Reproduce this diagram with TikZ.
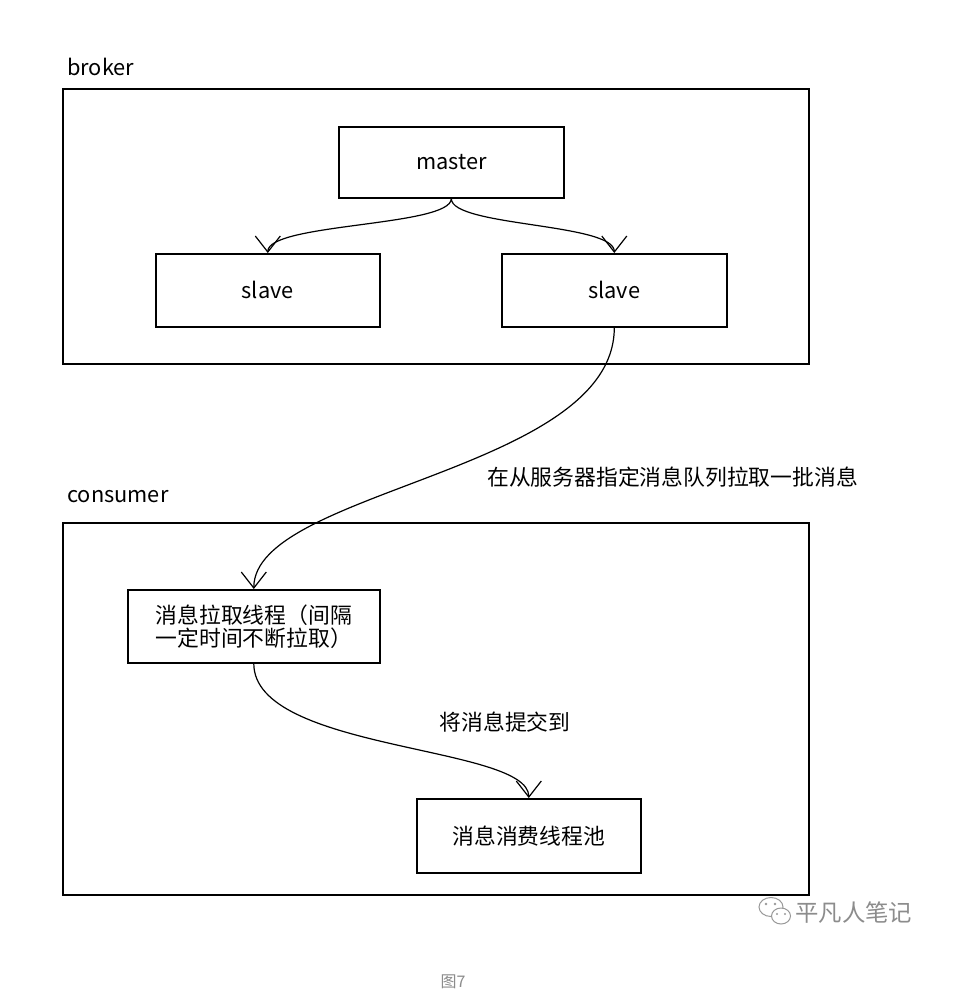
\documentclass[tikz,border=0pt]{standalone}
\usepackage{fontspec}
\setmainfont{Noto Sans CJK SC}
\usetikzlibrary{arrows.meta}
\begin{document}
\begin{tikzpicture}[x=1pt,y=-1pt,
  box/.style={draw=black,line width=1.6pt,inner sep=0pt,anchor=north west},
  lbl/.style={font=\fontsize{21.8}{23}\selectfont,inner sep=0pt},
  conn/.style={line width=1.2pt,-{Straight Barb[length=16pt,width=25pt,line width=1.2pt]}},
  grey/.style={text=black!45}]
\useasboundingbox[fill=white] (0,0) rectangle (961,998);
% containers
\node[box,minimum width=746pt,minimum height=275pt] (broker) at (62,88) {};
\node[box,minimum width=746pt,minimum height=372pt] (consumer) at (62,522) {};
\node[lbl,anchor=west] (brokerlbl) at (67,67) {broker};
\node[lbl,anchor=west] (consumerlbl) at (67,497) {consumer};
% nodes
\node[box,minimum width=225pt,minimum height=71pt] (master) at (338,126) {};
\node[lbl] at (master.center) {master};
\node[box,minimum width=224pt,minimum height=73pt] (slaveA) at (155,253) {};
\node[lbl] at (slaveA.center) {slave};
\node[box,minimum width=225pt,minimum height=73pt] (slaveB) at (501,253) {};
\node[lbl] at (slaveB.center) {slave};
\node[box,minimum width=252pt,minimum height=73pt] (pull) at (127,589) {};
\node[lbl,align=left] at (pull.center) {消息拉取线程（间隔\\一定时间不断拉取）};
\node[box,minimum width=224pt,minimum height=74pt] (pool) at (416,798) {};
\node[lbl] at (pool.center) {消息消费线程池};
% connectors
\draw[conn] (master.south) .. controls +(0,28) and +(0,-30) .. (slaveA.north);
\draw[conn] (master.south) .. controls +(0,28) and +(0,-30) .. (slaveB.north);
\draw[conn] (slaveB.south) .. controls +(0,144) and +(0,-99) .. (pull.north);
\draw[conn] (pull.south) .. controls +(0,88) and +(0,-53) .. (pool.north);
% edge labels
\node[lbl,anchor=west] (lab1) at (487,477) {在从服务器指定消息队列拉取一批消息};
\node[lbl] (lab2) at (505,722) {将消息提交到};
% watermark
\begin{scope}[draw=black!40,line width=1pt]
  \draw (771,907) ellipse [x radius=12pt,y radius=9.5pt];
  \draw[fill=white] (781,916) ellipse [x radius=9.5pt,y radius=8pt];
  \fill[black!40] (766,904) circle (1.3pt) (775,904) circle (1.3pt);
  \fill[black!40] (777,914) circle (1.1pt) (785,914) circle (1.1pt);
\end{scope}
\node[lbl,grey,anchor=west,font=\fontsize{23.4}{26}\selectfont] (wm) at (795,913) {平凡人笔记};
\node[lbl,grey,font=\fontsize{16}{18}\selectfont] (cap) at (453,982) {图7};
\end{tikzpicture}
\end{document}
